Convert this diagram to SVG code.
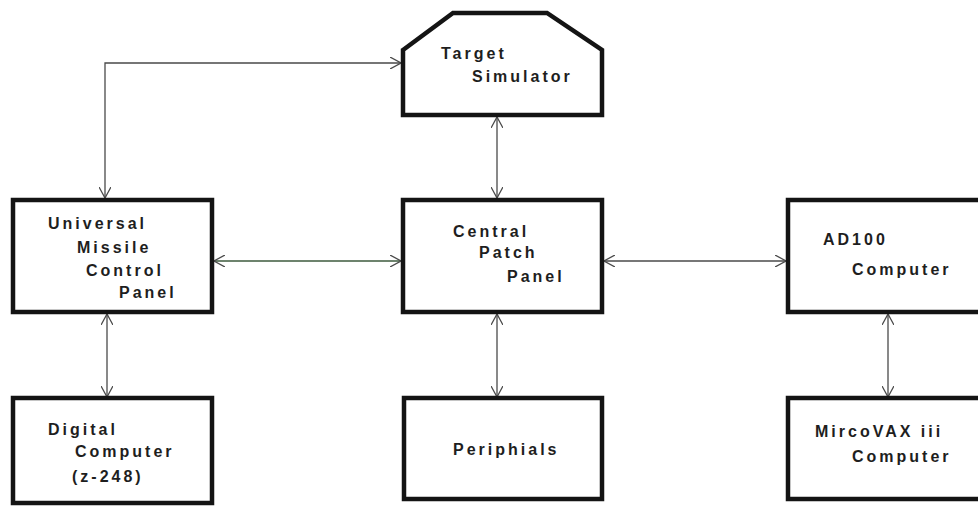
<svg xmlns="http://www.w3.org/2000/svg" width="978" height="508" viewBox="0 0 978 508">
<style>
.box{fill:#fff;stroke:#141414;stroke-width:4.5;stroke-linejoin:miter}
.lbl{font-family:"Liberation Sans",Arial,sans-serif;font-weight:bold;font-size:16px;letter-spacing:3px;fill:#1e1e1e}
.con{fill:none;stroke:#4a4a4a;stroke-width:1.3}
.g{stroke:#3d5a3d}
</style>
<defs>
<marker id="ah" viewBox="0 0 12 12" refX="11" refY="6" markerWidth="12" markerHeight="12" markerUnits="userSpaceOnUse" orient="auto-start-reverse">
<path d="M0,0 L11,6 L0,12" fill="none" stroke="#4a4a4a" stroke-width="1.3"/>
</marker>
</defs>
<rect width="978" height="508" fill="#fff"/>
<g id="connectors">
<path class="con" d="M105,198 V63 H401" marker-start="url(#ah)" marker-end="url(#ah)"/>
<path class="con" d="M497,117 V198" marker-start="url(#ah)" marker-end="url(#ah)"/>
<path class="con g" d="M214,261 H401" marker-start="url(#ah)" marker-end="url(#ah)"/>
<path class="con" d="M604,261 H786" marker-start="url(#ah)" marker-end="url(#ah)"/>
<path class="con" d="M107,314 V397" marker-start="url(#ah)" marker-end="url(#ah)"/>
<path class="con" d="M497,314 V397" marker-start="url(#ah)" marker-end="url(#ah)"/>
<path class="con" d="M888,314 V397" marker-start="url(#ah)" marker-end="url(#ah)"/>
</g>
<g id="target">
<path class="box" d="M403,50 L453,13 L547,13 L602,50 L602,115 L403,115 Z"/>
<text class="lbl" x="441" y="59">Target</text>
<text class="lbl" x="472" y="82">Simulator</text>
</g>
<g id="umcp">
<rect class="box" x="13" y="200" width="199" height="112"/>
<text class="lbl" x="48" y="229">Universal</text>
<text class="lbl" x="77" y="253">Missile</text>
<text class="lbl" x="86" y="276">Control</text>
<text class="lbl" x="119" y="298">Panel</text>
</g>
<g id="central">
<rect class="box" x="403" y="200" width="199" height="112"/>
<text class="lbl" x="453" y="237">Central</text>
<text class="lbl" x="479" y="258">Patch</text>
<text class="lbl" x="507" y="282">Panel</text>
</g>
<g id="ad100">
<rect class="box" x="788" y="200" width="200" height="112"/>
<text class="lbl" x="823" y="245">AD100</text>
<text class="lbl" x="852" y="275">Computer</text>
</g>
<g id="digital">
<rect class="box" x="13" y="398" width="199" height="105"/>
<text class="lbl" x="48" y="435">Digital</text>
<text class="lbl" x="75" y="457">Computer</text>
<text class="lbl" x="72" y="482">(z-248)</text>
</g>
<g id="periphials">
<rect class="box" x="404" y="398" width="198" height="101"/>
<text class="lbl" x="453" y="455">Periphials</text>
</g>
<g id="microvax">
<rect class="box" x="788" y="398" width="200" height="101"/>
<text class="lbl" x="815" y="437">MircoVAX iii</text>
<text class="lbl" x="852" y="462">Computer</text>
</g>
</svg>
